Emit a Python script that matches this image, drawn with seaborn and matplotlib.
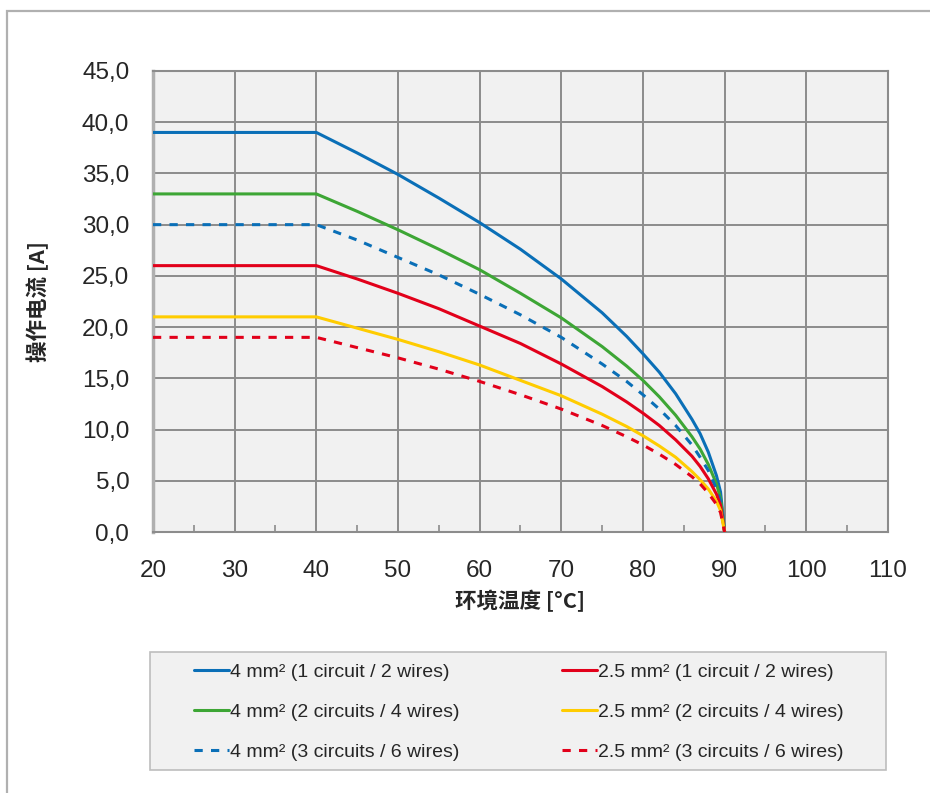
import matplotlib
matplotlib.use('Agg')
import matplotlib.pyplot as plt
from matplotlib.patches import Rectangle
from matplotlib.ticker import MultipleLocator
import pandas as pd
import seaborn as sns

# ambient temperature [°C] and operating current [A]
temps = [20, 40, 45, 50, 55, 60, 65, 70, 75, 78, 80, 82, 84, 86, 87, 88, 89, 89.5, 90]

blue_4mm_1c = [39, 39, 37.0, 34.9, 32.6, 30.2, 27.6, 24.7, 21.4, 19.1, 17.4, 15.6, 13.5, 11.0, 9.6, 7.8, 5.5, 3.9, 0]
green_4mm_2c = [33, 33, 31.3, 29.5, 27.6, 25.6, 23.3, 20.9, 18.1, 16.2, 14.8, 13.2, 11.4, 9.3, 8.1, 6.6, 4.7, 3.3, 0]
blue_4mm_3c = [30, 30, 28.5, 26.8, 25.1, 23.2, 21.2, 19.0, 16.4, 14.7, 13.4, 12.0, 10.4, 8.5, 7.3, 6.0, 4.2, 3.0, 0]
red_25mm_1c = [26, 26, 24.7, 23.3, 21.8, 20.1, 18.4, 16.4, 14.2, 12.7, 11.6, 10.4, 9.0, 7.4, 6.4, 5.2, 3.7, 2.6, 0]
yellow_25mm_2c = [21, 21, 19.9, 18.8, 17.6, 16.3, 14.8, 13.3, 11.5, 10.3, 9.4, 8.4, 7.3, 5.9, 5.1, 4.2, 3.0, 2.1, 0]
red_25mm_3c = [19, 19, 18.0, 17.0, 15.9, 14.7, 13.4, 12.0, 10.4, 9.3, 8.5, 7.6, 6.6, 5.4, 4.7, 3.8, 2.7, 1.9, 0]

labels = [
    '4 mm² (1 circuit / 2 wires)',
    '4 mm² (2 circuits / 4 wires)',
    '4 mm² (3 circuits / 6 wires)',
    '2.5 mm² (1 circuit / 2 wires)',
    '2.5 mm² (2 circuits / 4 wires)',
    '2.5 mm² (3 circuits / 6 wires)',
]
series = [blue_4mm_1c, green_4mm_2c, blue_4mm_3c, red_25mm_1c, yellow_25mm_2c, red_25mm_3c]
colors = ['#0a6fb7', '#3da635', '#0a6fb7', '#e2001a', '#ffcc00', '#e2001a']
dashed = [False, False, True, False, False, True]

y_ticks = [0, 5, 10, 15, 20, 25, 30, 35, 40, 45]
y_tick_labels = ['0,0', '5,0', '10,0', '15,0', '20,0', '25,0', '30,0', '35,0', '40,0', '45,0']
x_ticks = [20, 30, 40, 50, 60, 70, 80, 90, 100, 110]

rows = []
for lab, vals in zip(labels, series):
    for t, v in zip(temps, vals):
        rows.append({'temp': t, 'current': v, 'series': lab})
df = pd.DataFrame(rows)

sns.set_style('whitegrid', {'axes.facecolor': '#f1f1f1', 'grid.color': '#8c8c8c',
                            'axes.edgecolor': '#8c8c8c'})
plt.rcParams['font.family'] = ['Liberation Sans', 'Noto Sans CJK SC', 'DejaVu Sans']

fig = plt.figure(figsize=(9.3, 7.93), dpi=100)
ax = fig.add_axes([0.1645, 0.3291, 0.7903, 0.5814])

palette = dict(zip(labels, colors))
dash_map = {lab: ((2.7, 2.7) if d else '') for lab, d in zip(labels, dashed)}
sns.lineplot(data=df, x='temp', y='current', hue='series', style='series',
             palette=palette, dashes=dash_map, hue_order=labels, style_order=labels,
             linewidth=2.2, legend=False, ax=ax, zorder=3)

ax.set_xlim(20, 110)
ax.set_ylim(0, 45)
ax.set_xticks(x_ticks)
ax.set_yticks(y_ticks)
ax.set_yticklabels(y_tick_labels)
ax.xaxis.set_minor_locator(MultipleLocator(5))
ax.tick_params(axis='both', which='major', length=0, labelsize=17.5)
ax.tick_params(axis='x', which='major', pad=20)
ax.tick_params(axis='y', which='major', pad=17)
ax.tick_params(axis='x', which='minor', direction='in', length=5, width=1.2,
               color='#8c8c8c', bottom=True)
ax.grid(True, which='major', color='#8c8c8c', linewidth=1.4)
ax.grid(False, which='minor')
for side in ['top', 'right', 'bottom']:
    ax.spines[side].set_color('#8c8c8c')
    ax.spines[side].set_linewidth(1.5)
ax.spines['left'].set_color('#b0b0b0')
ax.spines['left'].set_linewidth(2.5)

ax.set_xlabel('环境温度 [°C]', fontsize=15.5, fontweight='bold', labelpad=6,
              family=['Noto Sans CJK SC', 'DejaVu Sans'])
ax.set_ylabel('操作电流 [A]', fontsize=15.5, fontweight='bold', labelpad=24,
              family=['Noto Sans CJK SC', 'DejaVu Sans'])

# legend box
fig.add_artist(Rectangle((150 / 930, 1 - 770 / 793), 736 / 930, 118 / 793,
                         transform=fig.transFigure, facecolor='#f1f1f1',
                         edgecolor='#bdbdbd', linewidth=1.2, zorder=0))
handles = ax.get_lines()[:len(labels)]
fig.legend(handles, labels, ncol=2, loc='upper left',
           bbox_to_anchor=(182 / 930, 1 - 652 / 793), frameon=False,
           fontsize=14, handlelength=1.8, handletextpad=0.05,
           columnspacing=5.3, labelspacing=1.15, borderpad=0.1)

# outer frame
fig.add_artist(Rectangle((7 / 930, -0.1), 1.2, 1.1 - 11 / 793,
                         transform=fig.transFigure, fill=False,
                         edgecolor='#b0b0b0', linewidth=1.6))

fig.savefig('out.png', dpi=100)
